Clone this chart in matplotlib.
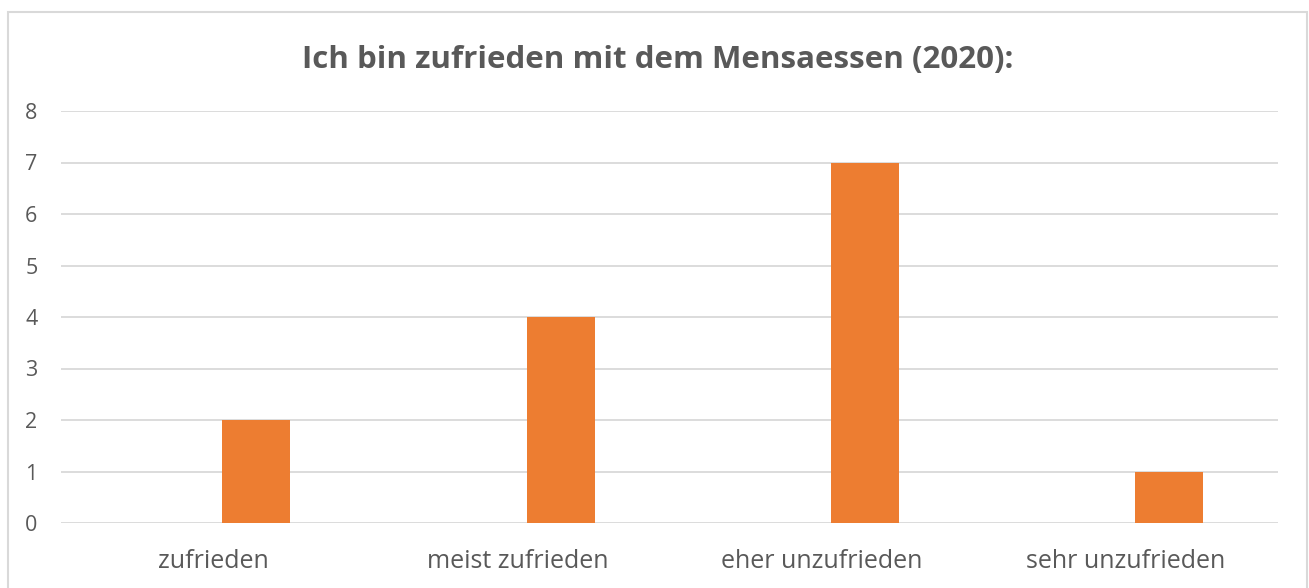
import matplotlib
matplotlib.use("Agg")
import matplotlib.pyplot as plt
from matplotlib.patches import Rectangle

categories = ["zufrieden", "meist zufrieden", "eher unzufrieden", "sehr unzufrieden"]
values = [2, 4, 7, 1]
yticks = [0, 1, 2, 3, 4, 5, 6, 7, 8]
title = "Ich bin zufrieden mit dem Mensaessen (2020):"

plt.rcParams['font.family'] = ['Open Sans', 'DejaVu Sans']
TXT = "#595959"
GRID = "#D9D9D9"
ORANGE = "#ED7D31"

fig = plt.figure(figsize=(13.09, 5.88), dpi=100)
fig.patches.append(Rectangle((8/1309, -0.05), (1307-8)/1309, 1.05 - 12/588,
                             transform=fig.transFigure, fill=False,
                             edgecolor=GRID, linewidth=1.5))
ax = fig.add_axes([61/1309, 1-523/588, (1278-61)/1309, (523-111)/588])

x = list(range(len(categories)))
offset = 0.142
width = 0.224
ax.bar([i + offset for i in x], values, width=width, color=ORANGE, zorder=3)

ax.set_xlim(-0.5, len(categories) - 0.5)
ax.set_ylim(0, 8)
ax.set_yticks(yticks)
ax.set_yticklabels([str(t) for t in yticks])
ax.set_xticks(x)
ax.set_xticklabels(categories)
ax.tick_params(axis='y', length=0, pad=17, labelsize=15.5, labelcolor=TXT)
ax.tick_params(axis='x', length=0, pad=19, labelsize=18, labelcolor=TXT)
ax.grid(axis='y', color=GRID, linewidth=1.3, zorder=0)
for s in ax.spines.values():
    s.set_visible(False)

fig.text(658/1309, 1-60/588, title, ha='center', va='center',
         fontsize=22.5, fontweight='bold', color=TXT)

fig.savefig("out.png", dpi=100)
